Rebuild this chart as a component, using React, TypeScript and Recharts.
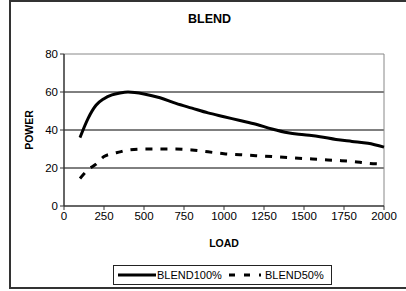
import React from 'react';
import { LineChart, Line, XAxis, YAxis, CartesianGrid, Legend, ReferenceLine } from 'recharts';

const loads = [100, 150, 200, 250, 300, 350, 400, 500, 600, 700, 800, 900, 1000, 1100, 1200, 1300, 1400, 1500, 1600, 1700, 1800, 1900, 2000];
const blend100 = [36, 46, 53, 56.5, 58.5, 59.5, 60, 59, 57, 54, 51.5, 49, 47, 45, 43, 40.5, 38.5, 37.5, 36.5, 35, 34, 33, 31];
const blend50 = [14.5, 19, 22, 26, 27.5, 28.5, 29.5, 30, 30, 30, 29.5, 28.5, 27.5, 27, 26.5, 26, 25.5, 25, 24.5, 24, 23.5, 22.5, 22];
const xTicks = [0, 250, 500, 750, 1000, 1250, 1500, 1750, 2000];
const yTicks = [0, 20, 40, 60, 80];
const seriesNames = ['BLEND100%', 'BLEND50%'];

const data = loads.map((l, i) => ({ load: l, b100: blend100[i], b50: blend50[i] }));

const font = 'Arial, "Liberation Sans", sans-serif';

const LegendBox = () => (
  <svg width={220} height={21} style={{ display: 'block' }}>
    <rect x={0.5} y={0.5} width={218} height={19} fill="#fff" stroke="#222" strokeWidth={1} />
    <line x1={5} y1={10} x2={43} y2={10} stroke="#000" strokeWidth={3} />
    <text x={44} y={14} fontSize={11} fontFamily={font} fill="#000">{seriesNames[0]}</text>
    <line x1={116} y1={10} x2={148} y2={10} stroke="#000" strokeWidth={3} strokeDasharray="6 9" />
    <text x={152} y={14} fontSize={11} fontFamily={font} fill="#000">{seriesNames[1]}</text>
  </svg>
);

export default function App() {
  return (
    <div style={{ position: 'absolute', left: 0, top: 0, width: 406, height: 291, overflow: 'hidden', background: '#fff' }}>
      <div style={{ position: 'absolute', left: 9, top: 0, width: 410, height: 289, border: '2px solid #333', boxSizing: 'border-box' }} />
      <div style={{ position: 'absolute', left: 0, width: 419, top: 12, textAlign: 'center', fontFamily: font, fontSize: 12.5, fontWeight: 'bold' }}>BLEND</div>
      <LineChart width={406} height={291} data={data} margin={{ top: 54, right: 22, bottom: 34, left: 24 }} style={{ position: 'absolute', left: 0, top: 0 }}>
        <CartesianGrid vertical={false} stroke="#000" strokeWidth={1} horizontalValues={[20, 40, 60]} />
        <ReferenceLine y={80} stroke="#888" strokeWidth={1} />
        <ReferenceLine x={2000} stroke="#888" strokeWidth={1} />
        <XAxis dataKey="load" type="number" domain={[0, 2000]} ticks={xTicks} interval={0} height={30}
          axisLine={{ stroke: '#333', strokeWidth: 1.5 }} tickLine={{ stroke: '#333' }} tickSize={4}
          tick={{ fontSize: 11.5, fill: '#000', fontFamily: font }}
          label={{ value: 'LOAD', position: 'insideBottom', offset: -11, style: { fontSize: 10.5, fontWeight: 'bold', fill: '#000', fontFamily: font } }} />
        <YAxis type="number" domain={[0, 80]} ticks={yTicks} interval={0} width={40}
          axisLine={{ stroke: '#333', strokeWidth: 1.5 }} tickLine={{ stroke: '#333' }} tickSize={4}
          tick={{ fontSize: 11.5, fill: '#000', fontFamily: font }}
          label={{ value: 'POWER', angle: -90, position: 'insideLeft', offset: 5, style: { fontSize: 10.5, fontWeight: 'bold', fill: '#000', fontFamily: font, textAnchor: 'middle' } }} />
        <Line type="monotone" dataKey="b100" stroke="#000" strokeWidth={3} dot={false} isAnimationActive={false} />
        <Line type="monotone" dataKey="b50" stroke="#000" strokeWidth={3} strokeDasharray="7 8" dot={false} isAnimationActive={false} />
        <Legend content={() => <LegendBox />} wrapperStyle={{ position: 'absolute', left: 113, top: 265, width: 220, bottom: 'auto' }} />
      </LineChart>
    </div>
  );
}
